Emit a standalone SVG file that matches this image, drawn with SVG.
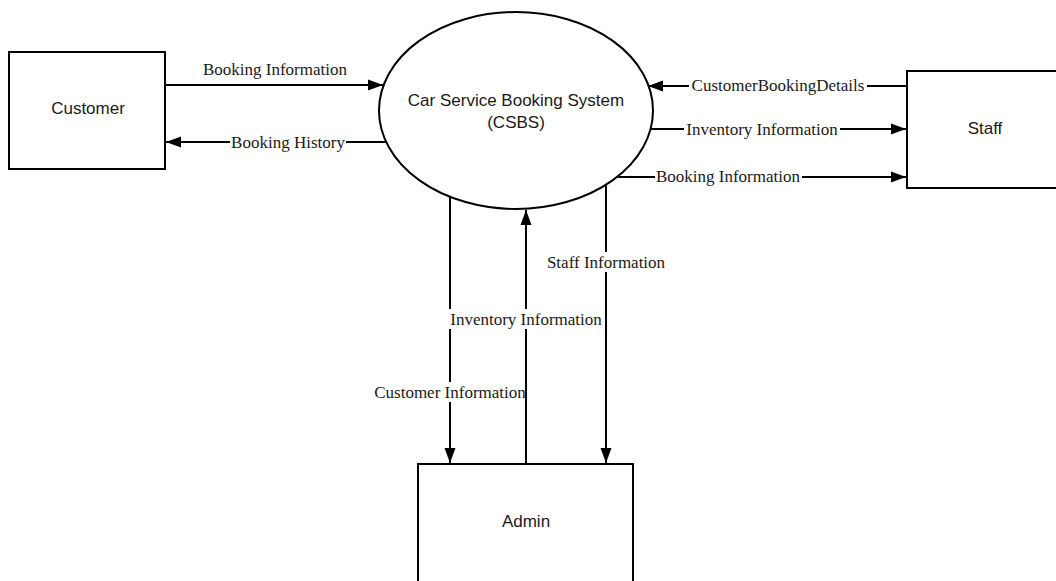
<svg xmlns="http://www.w3.org/2000/svg" width="1056" height="581" viewBox="0 0 1056 581">
  <style>
    .box { fill: #ffffff; stroke: #000000; stroke-width: 2; }
    .node-text { font-family: "Liberation Sans", Arial, sans-serif; font-size: 17px; fill: #1a1a1a; text-anchor: middle; dominant-baseline: central; }
    .flow { fill: none; stroke: #000000; stroke-width: 2; marker-end: url(#arrow); }
    .label { font-family: "Liberation Serif", "Times New Roman", serif; font-size: 17px; fill: #1a1a1a; text-anchor: middle; dominant-baseline: central; }
    .label-bg { fill: #ffffff; }
  </style>
  <defs>
    <marker id="arrow" markerUnits="userSpaceOnUse" markerWidth="16" markerHeight="12" viewBox="0 0 16 12" refX="15" refY="6" orient="auto">
      <path d="M0,0.5 L15,6 L0,11.5 Z" fill="#000000"/>
    </marker>
  </defs>
  <rect width="1056" height="581" fill="#ffffff"/>

  <!-- data flows -->
  <g id="connectors">
    <!-- Customer -> CSBS -->
    <line class="flow" x1="165" y1="85" x2="383" y2="85"/>
    <text class="label" x="275" y="69">Booking Information</text>

    <!-- CSBS -> Customer -->
    <line class="flow" x1="386" y1="142" x2="166" y2="142"/>
    <rect class="label-bg" x="230" y="132" width="116" height="20"/>
    <text class="label" x="288" y="142">Booking History</text>

    <!-- Staff -> CSBS -->
    <line class="flow" x1="907" y1="86" x2="648" y2="86"/>
    <rect class="label-bg" x="689" y="76" width="178" height="20"/>
    <text class="label" x="778" y="85">CustomerBookingDetails</text>

    <!-- CSBS -> Staff (inventory) -->
    <line class="flow" x1="650" y1="129" x2="906" y2="129"/>
    <rect class="label-bg" x="684" y="119" width="156" height="20"/>
    <text class="label" x="762" y="129">Inventory Information</text>

    <!-- CSBS -> Staff (booking) -->
    <line class="flow" x1="618" y1="177" x2="906" y2="177"/>
    <rect class="label-bg" x="655" y="167" width="147" height="20"/>
    <text class="label" x="728" y="176">Booking Information</text>

    <!-- CSBS -> Admin (customer) -->
    <line class="flow" x1="450" y1="197" x2="450" y2="463"/>
    <rect class="label-bg" x="372" y="382" width="156" height="20"/>
    <text class="label" x="450" y="392">Customer Information</text>

    <!-- Admin -> CSBS (inventory) -->
    <line class="flow" x1="526" y1="464" x2="526" y2="210"/>
    <rect class="label-bg" x="448" y="309" width="156" height="20"/>
    <text class="label" x="526" y="319">Inventory Information</text>

    <!-- CSBS -> Admin (staff) -->
    <line class="flow" x1="606" y1="185" x2="606" y2="463"/>
    <rect class="label-bg" x="545" y="252" width="122" height="20"/>
    <text class="label" x="606" y="262">Staff Information</text>
  </g>

  <!-- external entities and process -->
  <g id="customer">
    <rect class="box" x="9" y="52" width="156" height="117"/>
    <text class="node-text" x="88" y="108">Customer</text>
  </g>

  <g id="csbs">
    <ellipse class="box" cx="516" cy="110.5" rx="137" ry="98.5"/>
    <text class="node-text" x="516" y="100">Car Service Booking System</text>
    <text class="node-text" x="516" y="122">(CSBS)</text>
  </g>

  <g id="staff">
    <rect class="box" x="907" y="71" width="160" height="117"/>
    <text class="node-text" x="985" y="128">Staff</text>
  </g>

  <g id="admin">
    <rect class="box" x="418" y="464" width="215" height="130"/>
    <text class="node-text" x="526" y="521">Admin</text>
  </g>
</svg>
